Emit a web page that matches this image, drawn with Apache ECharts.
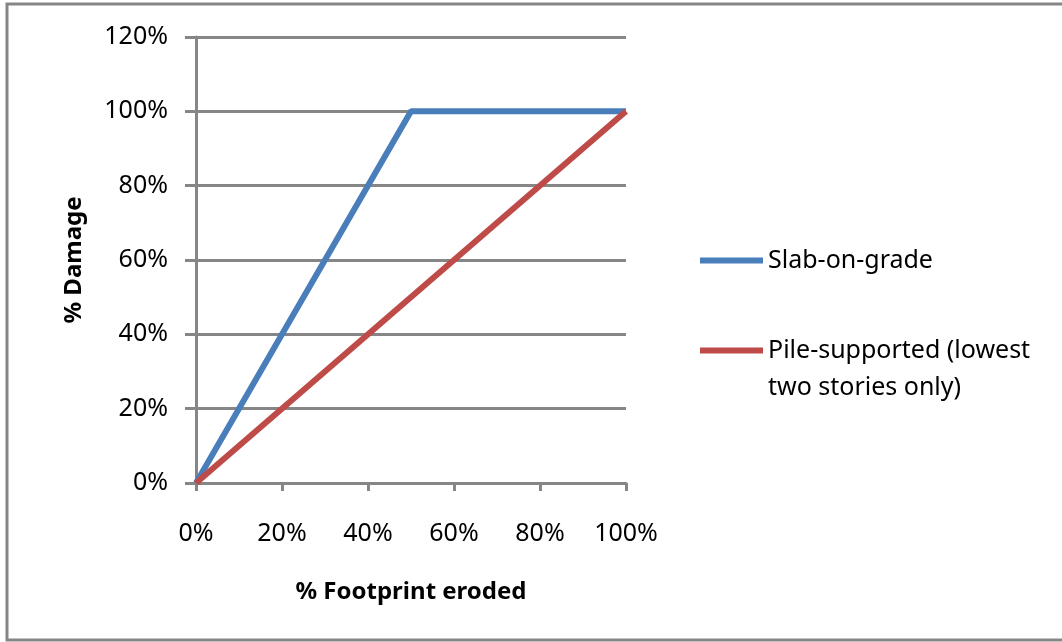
<!DOCTYPE html>
<html>
<head>
<meta charset="utf-8">
<script src="https://cdn.jsdelivr.net/npm/echarts@6/dist/echarts.min.js"></script>
<style>
html,body{margin:0;padding:0;background:#fff;}
#c{width:1062px;height:642px;}
</style>
</head>
<body>
<div id="c"></div>
<script>
const xTicks = [0, 20, 40, 60, 80, 100];
const yTicks = [0, 20, 40, 60, 80, 100, 120];
const seriesNames = ['Slab-on-grade', 'Pile-supported (lowest two stories only)'];
const legendLabels = ['Slab-on-grade', '\nPile-supported (lowest\ntwo stories only)'];
const slabX = [0, 50, 100];
const slabY = [0, 100, 100];
const pileX = [0, 100];
const pileY = [0, 100];

const FONT = 'Noto Sans';
const GRAY = '#868686';
const chart = echarts.init(document.getElementById('c'), null, {renderer: 'canvas'});
const pair = (xs, ys) => xs.map((x, i) => [x, ys[i]]);

chart.setOption({
  backgroundColor: '#fff',
  animation: false,
  graphic: [{
    type: 'rect', shape: {x: 7, y: 4, width: 1070, height: 636},
    style: {fill: 'none', stroke: GRAY, lineWidth: 3}, silent: true
  }],
  grid: {left: 196, right: 436, top: 37, bottom: 159, containLabel: false},
  legend: {
    data: seriesNames, orient: 'vertical', left: 700, top: 242, padding: 0,
    itemWidth: 63, itemHeight: 6, icon: 'rect', itemGap: 16,
    formatter: name => legendLabels[seriesNames.indexOf(name)],
    textStyle: {fontFamily: FONT, fontSize: 25, color: '#000', lineHeight: 37}
  },
  xAxis: {
    type: 'value', min: xTicks[0], max: xTicks[xTicks.length - 1], interval: 20,
    name: '% Footprint eroded', nameLocation: 'middle', nameGap: 97,
    nameTextStyle: {fontFamily: FONT, fontSize: 24, fontWeight: 'bold', color: '#000'},
    axisLine: {lineStyle: {color: GRAY, width: 3}},
    axisTick: {show: true, length: 8, lineStyle: {color: GRAY, width: 3}},
    axisLabel: {fontFamily: FONT, fontSize: 25, color: '#000', margin: 38, formatter: v => v + '%'},
    splitLine: {show: false}
  },
  yAxis: {
    type: 'value', min: yTicks[0], max: yTicks[yTicks.length - 1], interval: 20,
    name: '% Damage', nameLocation: 'middle', nameGap: 110, nameRotate: 90,
    nameTextStyle: {fontFamily: FONT, fontSize: 24, fontWeight: 'bold', color: '#000'},
    axisLine: {show: true, lineStyle: {color: GRAY, width: 3}},
    axisTick: {show: true, length: 11, lineStyle: {color: GRAY, width: 3}},
    axisLabel: {fontFamily: FONT, fontSize: 25, color: '#000', margin: 28, formatter: v => v + '%'},
    splitLine: {show: true, lineStyle: {color: GRAY, width: 3}}
  },
  series: [{
    name: seriesNames[0], type: 'line', data: pair(slabX, slabY),
    showSymbol: false, symbol: 'none', color: '#4A7EBB',
    lineStyle: {width: 6, color: '#4A7EBB'}
  }, {
    name: seriesNames[1], type: 'line', data: pair(pileX, pileY),
    showSymbol: false, symbol: 'none', color: '#BE4B48',
    lineStyle: {width: 6, color: '#BE4B48'}
  }]
});
</script>
</body>
</html>
